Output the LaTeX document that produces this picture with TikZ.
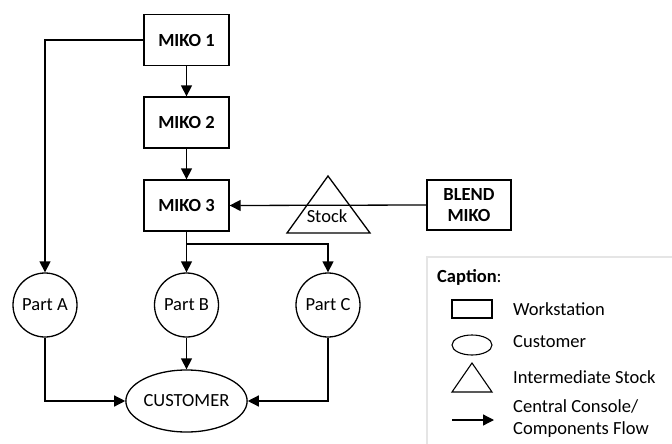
\documentclass[tikz,border=0pt]{standalone}
\usepackage{fontspec}
\setmainfont{Carlito}
\usetikzlibrary{arrows.meta,shapes.geometric}
\begin{document}
\begin{tikzpicture}[x=1pt,y=-1pt,
  every node/.style={font=\fontsize{18.5}{22}\selectfont, inner sep=0pt},
  ws/.style={draw, line width=1.3pt, minimum width=85pt, minimum height=51pt, font=\fontsize{18.5}{20.5}\selectfont\bfseries, align=center},
  part/.style={draw, line width=1.3pt, circle, minimum size=64pt},
  cust/.style={draw, line width=1.3pt, ellipse, minimum width=120pt, minimum height=62pt},
  flow/.style={line width=1.3pt, -{Triangle[length=11pt,width=11pt]}},
  lbl/.style={anchor=west, align=left},
  legendframe/.style={draw=black!10, line width=2pt}
]
\useasboundingbox (0,0) rectangle (672,444);

% workstations
\node[ws] (m1) at (186.5,40) {MIKO 1};
\node[ws] (m2) at (186.5,122.5) {MIKO 2};
\node[ws] (m3) at (186.5,205.5) {MIKO 3};
\node[ws, minimum width=84pt, minimum height=50pt] (blend) at (469,205) {BLEND\\MIKO};

% intermediate stock
\coordinate (tA) at (328,176);
\coordinate (tL) at (287,233);
\coordinate (tR) at (370,233);
\draw[line width=1.3pt, line join=miter] (tL) -- (tA) -- (tR) -- cycle;
\node (stock) at (327,216) {Stock};

% parts and customer
\node[part] (pa) at (45,305) {Part A};
\node[part] (pb) at (186.5,305) {Part B};
\node[part] (pc) at (328,305) {Part C};
\node[cust] (cu) at (186.5,401) {CUSTOMER};

% flows
\coordinate (split) at (186.5,244);
\draw[flow] (m1) -- (m2);
\draw[flow] (m2) -- (m3);
\draw[flow] (m1.west) -| (pa.north);
\draw[flow] (blend.west) -- (m3.east);
\draw[line width=1.3pt] (m3.south) -- (split);
\draw[flow] (split) -- (pb.north);
\draw[flow] (split) -| (pc.north);
\draw[flow] (pb) -- (cu);
\draw[flow] (pa.south) |- (cu.west);
\draw[flow] (pc.south) |- (cu.east);

% caption
\draw[legendframe] (673,257) -- (427,257) -- (427,445);
\node[lbl] (cap) at (437,277) {\textbf{Caption}:};
\node[draw, line width=1.1pt, minimum width=40pt, minimum height=18pt] (lws) at (472,309) {};
\node[lbl] (tws) at (513,309) {Workstation};
\node[draw, line width=1.1pt, ellipse, minimum width=40pt, minimum height=20pt] (lcu) at (472,345) {};
\node[lbl] (tcu) at (513,342) {Customer};
\coordinate (lA) at (472,363);
\coordinate (lL) at (452,392);
\coordinate (lR) at (492,392);
\draw[line width=1.1pt] (lL) -- (lA) -- (lR) -- cycle;
\node[lbl] (tst) at (513,377) {Intermediate Stock};
\coordinate (lf1) at (452,420);
\coordinate (lf2) at (494,420);
\draw[flow] (lf1) -- (lf2);
\node[lbl] (tfl) at (513,419) {Central Console/\\Components Flow};
\end{tikzpicture}
\end{document}
